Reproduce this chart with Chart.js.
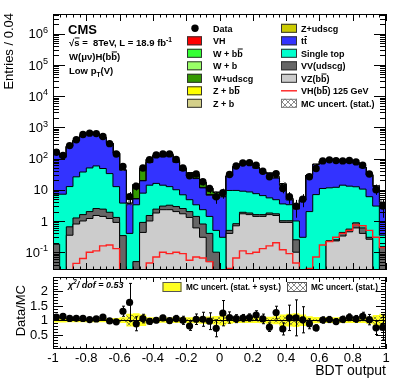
<!DOCTYPE html>
<html>
<head>
<meta charset="utf-8">
<script src="https://cdn.jsdelivr.net/npm/chart.js@4.4.1/dist/chart.umd.min.js"></script>
<style>
  html, body { margin: 0; padding: 0; background: #fff; }
  #wrap { position: relative; width: 407px; height: 391px; overflow: hidden; background: #fff; }
  #main { position: absolute; left: 0; top: 0; }
  #ratio { position: absolute; left: 0; top: 273px; }
</style>
</head>
<body>
<div id="wrap">
  <canvas id="main" width="407" height="274"></canvas>
  <canvas id="ratio" width="407" height="118"></canvas>
</div>
<script>
// 50 bins of 0.04 between -1 and 1 (BDT output)
const binLow = -1;
const binWidth = 0.04;

// observed events per bin
const dataCounts = [
  160, 125, 260, 400, 590, 650, 630, 510, 300, 140, 56, 6,
  13, 50, 92, 131, 141, 141, 93, 50, 28, 32, 18, 11, 6,
  8, 31, 58, 72, 74, 61, 39, 26, 33, 11, 6, 3, 5,
  26, 48, 84, 91, 86, 84, 87, 78, 61, 32, 10, 3
];

// MC backgrounds, bottom of the stack first
const vzbb = [
  0.01, 0.01, 0.35, 0.8, 1.0, 1.2, 1.5, 1.4, 1.2, 0.9, 0, 0,
  0.02, 0.43, 1.0, 1.8, 2.3, 2.3, 2.0, 1.7, 1.3, 0.6, 0.3, 0.05, 0,
  0, 0.4, 0.7, 1.7, 1.6, 1.4, 1.4, 1.6, 1.5, 0.9, 0.9, 0.1, 0,
  0, 0, 0, 0.23, 0.23, 0.33, 0.45, 0.6, 0.4, 0.26, 0, 0
];
const vvudscg = [
  0.17, 0, 0.3, 0.45, 0.6, 0.8, 1.0, 1.0, 0.7, 0.4, 0.34, 0,
  0.03, 0.47, 0.5, 0.6, 0.7, 0.9, 0.9, 0.8, 0.7, 0.8, 0.5, 0.35, 0.1,
  0, 0.1, 0.12, 0.2, 0.2, 0.2, 0.2, 0.2, 0.2, 0.12, 0.12, 0.15, 0,
  0, 0, 0, 0, 0.02, 0.1, 0.1, 0.27, 0.2, 0.04, 0, 0.15
];
const singleTop = [
  7.0, 7.2, 12, 24.7, 35.4, 48, 55.5, 45.6, 31.1, 11.3, 3.4, 0.4,
  3.25, 6.9, 12.5, 13.6, 11, 9.4, 7.1, 4.4, 2.8, 1.9, 1.5, 1.0, 0.4,
  0.3, 9, 8.7, 7.1, 6.7, 5.9, 4.9, 3.7, 3.1, 2.5, 2.3, 0.75, 0.3,
  2.0, 7, 11, 11.3, 11.75, 13.6, 12.5, 11.6, 9.9, 5.7, 3, 0.2
];
const ttbar = [
  137, 103, 232, 349, 517, 584, 545, 413, 274, 135, 38.5, 3.1,
  1.8, 11.6, 61.3, 97.5, 100, 115, 66.3, 34.8, 22.9, 19.5, 9.2, 5.3, 4.8,
  5.65, 18.2, 44.2, 56.5, 57.4, 41.8, 28.9, 27.4, 18.8, 10.3, 1.4, 1.4, 4.35,
  27.2, 57.3, 70.6, 75.2, 75.9, 65, 62.8, 58.2, 40.6, 23.4, 9.7, 3.3
];
const zudscg = [
  0.05, 0.05, 0.05, 0.08, 0.1, 0.1, 0.1, 0.1, 0.08, 0.05, 0.05, 0.05,
  0.1, 0.3, 0.5, 0.5, 0.5, 0.5, 0.4, 0.3, 0.3, 0.3, 0.3, 0.3, 0.3,
  0.05, 0.1, 0.15, 0.2, 0.2, 0.3, 0.3, 0.3, 0.4, 0.3, 0.2, 0.1, 0.05,
  0.1, 0.2, 0.3, 0.3, 0.3, 0.3, 0.3, 0.3, 0.2, 0.2, 0.1, 0.05
];
const zb = [
  0.02, 0.02, 0.02, 0.02, 0.02, 0.02, 0.02, 0.02, 0.02, 0.02, 0.02, 0.02,
  0.03, 0.05, 0.08, 0.1, 0.1, 0.1, 0.08, 0.06, 0.05, 0.05, 0.04, 0.03, 0.02,
  0.02, 0.03, 0.04, 0.05, 0.05, 0.05, 0.05, 0.04, 0.04, 0.03, 0.02, 0.02, 0.02,
  0.02, 0.03, 0.04, 0.05, 0.05, 0.05, 0.05, 0.05, 0.04, 0.03, 0.02, 0.02
];
const zbb = [
  0.01, 0.01, 0.02, 0.02, 0.03, 0.03, 0.03, 0.03, 0.02, 0.02, 0.01, 0.01,
  0.02, 0.05, 0.1, 0.15, 0.15, 0.12, 0.1, 0.06, 0.04, 0.04, 0.03, 0.02, 0.02,
  0.01, 0.03, 0.05, 0.06, 0.06, 0.06, 0.05, 0.04, 0.05, 0.03, 0.02, 0.01, 0.01,
  0.02, 0.04, 0.06, 0.08, 0.08, 0.08, 0.1, 0.1, 0.08, 0.05, 0.02, 0.01
];
const wudscg = [
  0.3, 0.2, 0.4, 0.6, 0.8, 0.9, 0.9, 0.8, 0.6, 0.4, 0.3, 0.05,
  9, 25, 14, 8, 6, 6, 6, 6, 6, 7, 5, 4, 2.5,
  0.3, 0.3, 0.5, 0.5, 0.6, 1.2, 0.8, 0.5, 1.2, 1.0, 0.3, 0.1, 0.1,
  0.3, 0.6, 0.8, 0.8, 0.8, 1.0, 1.2, 1.5, 1.0, 0.8, 0.3, 0.1
];
const wb = [
  0.05, 0.05, 0.05, 0.05, 0.05, 0.05, 0.05, 0.05, 0.05, 0.05, 0.05, 0.05,
  0.4, 1.5, 3, 3, 3, 2.5, 2, 1, 0.5, 0.4, 0.3, 0.2, 0.1,
  0.05, 0.1, 0.2, 0.3, 0.3, 0.3, 0.2, 0.15, 0.2, 0.2, 0.1, 0.05, 0.05,
  0.05, 0.1, 0.2, 0.2, 0.3, 0.3, 0.3, 0.3, 0.2, 0.1, 0.05, 0.02
];
const wbb = [
  0.03, 0.03, 0.03, 0.03, 0.03, 0.03, 0.03, 0.03, 0.03, 0.03, 0.03, 0.03,
  0.2, 1, 3, 6, 7, 6, 3, 1, 0.5, 0.3, 0.2, 0.1, 0.1,
  0.05, 0.1, 0.3, 0.4, 0.5, 0.5, 0.4, 0.25, 0.4, 0.3, 0.1, 0.05, 0.05,
  0.05, 0.1, 0.3, 0.5, 0.6, 0.6, 0.8, 0.9, 0.6, 0.3, 0.1, 0.02
];
// VH(bb) 125 GeV signal (stacked on top and drawn as red line)
const vhSignal = [
  0, 0, 0.02, 0.044, 0.063, 0.1, 0.11, 0.16, 0.17, 0.13, 0, 0,
  0, 0.02, 0.045, 0.07, 0.1, 0.09, 0.1, 0.09, 0.055, 0.07, 0.065, 0.05, 0.02,
  0.005, 0.03, 0.065, 0.11, 0.09, 0.1, 0.13, 0.16, 0.2, 0.12, 0.09, 0.045, 0,
  0.03, 0.07, 0.17, 0.22, 0.3, 0.4, 0.5, 0.75, 0.7, 0.5, 0.3, 0.14
];

// relative MC uncertainties (ratio panel bands)
const systRel = [
  0.08, 0.08, 0.07, 0.07, 0.07, 0.07, 0.07, 0.07, 0.07, 0.08, 0.1, 0.22,
  0.24, 0.2, 0.1, 0.09, 0.09, 0.09, 0.1, 0.1, 0.1, 0.11, 0.12, 0.13, 0.15,
  0.18, 0.12, 0.1, 0.1, 0.1, 0.1, 0.11, 0.12, 0.14, 0.2, 0.22, 0.24, 0.2,
  0.14, 0.11, 0.1, 0.1, 0.1, 0.1, 0.1, 0.1, 0.1, 0.12, 0.18, 0.22
];
const statRel = [
  0.02, 0.03, 0.02, 0.02, 0.015, 0.015, 0.015, 0.02, 0.02, 0.03, 0.06, 0.18,
  0.16, 0.08, 0.04, 0.03, 0.03, 0.03, 0.04, 0.05, 0.06, 0.06, 0.08, 0.09, 0.1,
  0.12, 0.06, 0.05, 0.04, 0.04, 0.05, 0.06, 0.07, 0.08, 0.14, 0.16, 0.18, 0.14,
  0.08, 0.05, 0.04, 0.04, 0.04, 0.04, 0.04, 0.05, 0.05, 0.07, 0.12, 0.16
];

const xTickLabels = ['-1', '-0.8', '-0.6', '-0.4', '-0.2', '0', '0.2', '0.4', '0.6', '0.8', '1'];
const ratioTickLabels = ['0.5', '1', '1.5', '2'];

const FONT = '"Liberation Sans", Arial, Helvetica, sans-serif';
const yMin = 0.0269, yMax = 4.27e6;

const components = [
  { name: 'VZ(bb)', values: vzbb, color: '#cccccc' },
  { name: 'VV(udscg)', values: vvudscg, color: '#666666' },
  { name: 'Single top', values: singleTop, color: '#00ffcc' },
  { name: 'tt', values: ttbar, color: '#3333ff' },
  { name: 'Z+udscg', values: zudscg, color: '#cccc00' },
  { name: 'Z + b', values: zb, color: '#d4d08a' },
  { name: 'Z + bb', values: zbb, color: '#ffff00' },
  { name: 'W+udscg', values: wudscg, color: '#339900' },
  { name: 'W + b', values: wb, color: '#99ff66' },
  { name: 'W + bb', values: wbb, color: '#33ff33' },
  { name: 'VH', values: vhSignal, color: '#ff0000' }
];

function binCenter(i) { return binLow + (i + 0.5) * binWidth; }

// histogram -> step line points at the bin edges
function stepPoints(values) {
  const pts = values.map((v, i) => ({ x: binLow + i * binWidth, y: Math.max(v, 1e-4) }));
  pts.push({ x: binLow + values.length * binWidth, y: Math.max(values[values.length - 1], 1e-4) });
  return pts;
}

// cumulative stack
let running = dataCounts.map(() => 0);
const cumulative = components.map(c => {
  running = running.map((r, i) => r + c.values[i]);
  return running.slice();
});
const mcTotal = cumulative[cumulative.length - 1];
const ratio = dataCounts.map((n, i) => n / mcTotal[i]);
const ratioErr = dataCounts.map((n, i) => Math.sqrt(n) / mcTotal[i]);

function hatchPattern(ctx) {
  const c = document.createElement('canvas');
  c.width = 6; c.height = 6;
  const g = c.getContext('2d');
  g.strokeStyle = 'rgba(70,70,70,0.9)';
  g.lineWidth = 0.7;
  g.beginPath();
  g.moveTo(0, 6); g.lineTo(6, 0);
  g.moveTo(0, 0); g.lineTo(6, 6);
  g.stroke();
  return ctx.createPattern(c, 'repeat');
}

// text with overline / super / subscript pieces
function drawRich(ctx, x, y, parts, size, weight, style, align) {
  const fontFor = k => `${style || 'normal'} ${weight || 'normal'} ${(k === 'sup' || k === 'sub') ? size * 0.7 : size}px ${FONT}`;
  const widths = parts.map(([t, k]) => { ctx.font = fontFor(k); return ctx.measureText(t).width; });
  const total = widths.reduce((a, b) => a + b, 0);
  let cx = align === 'right' ? x - total : (align === 'center' ? x - total / 2 : x);
  parts.forEach(([t, k], i) => {
    ctx.font = fontFor(k);
    const dy = k === 'sup' ? -size * 0.42 : (k === 'sub' ? size * 0.28 : 0);
    ctx.fillText(t, cx, y + dy);
    if (k === 'bar') ctx.fillRect(cx + 0.5, y - size * 0.9, widths[i] - 0.5, 1);
    cx += widths[i];
  });
  return total;
}

const mainCtx = document.getElementById('main').getContext('2d');
const ratioCtx = document.getElementById('ratio').getContext('2d');
const hatchMain = hatchPattern(mainCtx);
const hatchRatio = hatchPattern(ratioCtx);

// ---------------- main panel ----------------
const mainDatasets = [];
mainDatasets.push({
  label: 'Data',
  data: dataCounts.map((n, i) => ({ x: binCenter(i), y: n })),
  showLine: false,
  pointRadius: 3.7,
  pointBackgroundColor: '#000',
  pointBorderColor: '#000',
  pointBorderWidth: 0
});
mainDatasets.push({
  label: 'VH(bb) 125 GeV',
  data: stepPoints(vhSignal),
  stepped: true,
  borderColor: '#ff2020',
  borderWidth: 1.4,
  fill: false,
  pointRadius: 0
});
mainDatasets.push({
  label: 'MC uncert. (stat.) up',
  data: stepPoints(mcTotal.map((t, i) => t * (1 + statRel[i]))),
  stepped: true, borderWidth: 0, pointRadius: 0,
  fill: '+1', backgroundColor: hatchMain
});
mainDatasets.push({
  label: 'MC uncert. (stat.) down',
  data: stepPoints(mcTotal.map((t, i) => t * (1 - statRel[i]))),
  stepped: true, borderWidth: 0, pointRadius: 0, fill: false
});
components.forEach((c, k) => {
  mainDatasets.push({
    label: c.name,
    data: stepPoints(cumulative[k]),
    stepped: true,
    borderColor: '#000',
    borderWidth: 1,
    backgroundColor: c.color,
    fill: 'start',
    pointRadius: 0
  });
});

const mainDecor = {
  id: 'mainDecor',
  afterDatasetsDraw(chart) {
    const { ctx, chartArea: a, scales: { x, y } } = chart;
    ctx.save();
    ctx.beginPath();
    ctx.rect(a.left, a.top, a.right - a.left, a.bottom - a.top);
    ctx.clip();
    ctx.strokeStyle = '#000';
    ctx.lineWidth = 1;
    dataCounts.forEach((n, i) => {
      const px = Math.round(x.getPixelForValue(binCenter(i))) + 0.5;
      const e = Math.sqrt(n);
      ctx.beginPath();
      ctx.moveTo(px, y.getPixelForValue(Math.max(n - e, 1e-4)));
      ctx.lineTo(px, y.getPixelForValue(n + e));
      ctx.stroke();
    });
    ctx.restore();
  },
  afterDraw(chart) {
    const { ctx, chartArea: a, scales: { x, y } } = chart;
    ctx.save();
    ctx.strokeStyle = '#000';
    ctx.fillStyle = '#000';
    ctx.lineWidth = 1;
    ctx.strokeRect(a.left + 0.5, a.top + 0.5, a.right - a.left - 1, a.bottom - a.top - 1);

    // x ticks (inside, top and bottom)
    ctx.beginPath();
    for (let i = 0; i <= 50; i++) {
      const px = Math.round(x.getPixelForValue(binLow + i * binWidth)) + 0.5;
      const len = i % 5 === 0 ? 7 : 3.5;
      ctx.moveTo(px, a.bottom); ctx.lineTo(px, a.bottom - len);
      ctx.moveTo(px, a.top); ctx.lineTo(px, a.top + len);
    }
    // log y ticks (inside, left and right)
    for (let k = -2; k <= 6; k++) {
      for (let m = 1; m <= 9; m++) {
        const v = m * Math.pow(10, k);
        if (v < yMin || v > yMax) continue;
        const py = Math.round(y.getPixelForValue(v)) + 0.5;
        const len = m === 1 ? 12 : 6;
        ctx.moveTo(a.left, py); ctx.lineTo(a.left + len, py);
        ctx.moveTo(a.right, py); ctx.lineTo(a.right - len, py);
      }
    }
    ctx.stroke();

    // y labels
    ctx.textBaseline = 'alphabetic';
    for (let k = -1; k <= 6; k++) {
      const py = y.getPixelForValue(Math.pow(10, k));
      const parts = k === 0 ? [['1', '']] : (k === 1 ? [['10', '']] : [['10', ''], [String(k), 'sup']]);
      drawRich(ctx, 48, py + 4.7, parts, 13, 'normal', 'normal', 'right');
    }

    // y title
    ctx.save();
    ctx.translate(9, 13);
    ctx.rotate(-Math.PI / 2);
    ctx.textAlign = 'right';
    ctx.textBaseline = 'middle';
    ctx.font = `13px ${FONT}`;
    ctx.fillText('Entries / 0.04', 0, 0);
    ctx.restore();

    // CMS labels
    ctx.textAlign = 'left';
    ctx.font = `bold 13px ${FONT}`;
    ctx.fillText('CMS', 68, 33.5);
    drawRich(ctx, 69, 46, [['\u221A', ''], ['s', 'bar'], [' =  8TeV, L = 18.9 fb', ''], ['-1', 'sup']], 9.5, 'bold');
    drawRich(ctx, 69, 60, [['W(\u03BC\u03BD)H(b', ''], ['b', 'bar'], [')', '']], 9.5, 'bold');
    drawRich(ctx, 69, 74, [['Low p', ''], ['T', 'sub'], ['(V)', '']], 9.5, 'bold');

    // legend
    const rows = [28.3, 40.8, 53.3, 65.8, 78.3, 90.8, 103.3];
    const box = (bx, cy, w, fill) => {
      ctx.fillStyle = fill;
      ctx.fillRect(bx, cy - 4.5, w, 9);
      ctx.strokeStyle = '#333';
      ctx.strokeRect(bx + 0.5, cy - 4.5 + 0.5, w - 1, 8);
      ctx.fillStyle = '#000';
    };
    const col1 = [
      { kind: 'dot', parts: [['Data', '']] },
      { kind: 'box', color: '#ff0000', parts: [['VH', '']] },
      { kind: 'box', color: '#33ff33', parts: [['W + b', ''], ['b', 'bar']] },
      { kind: 'box', color: '#99ff66', parts: [['W + b', '']] },
      { kind: 'box', color: '#339900', parts: [['W+udscg', '']] },
      { kind: 'box', color: '#ffff00', parts: [['Z + b', ''], ['b', 'bar']] },
      { kind: 'box', color: '#d4d08a', parts: [['Z + b', '']] }
    ];
    const col2 = [
      { kind: 'box', color: '#cccc00', parts: [['Z+udscg', '']] },
      { kind: 'box', color: '#3333ff', parts: [['t', ''], ['t', 'bar']] },
      { kind: 'box', color: '#00ffcc', parts: [['Single top', '']] },
      { kind: 'box', color: '#666666', parts: [['VV(udscg)', '']] },
      { kind: 'box', color: '#cccccc', parts: [['VZ(b', ''], ['b', 'bar'], [')', '']] },
      { kind: 'line', parts: [['VH(b', ''], ['b', 'bar'], [') 125 GeV', '']] },
      { kind: 'hatch', parts: [['MC uncert. (stat.)', '']] }
    ];
    col1.forEach((e, r) => {
      const cy = rows[r];
      if (e.kind === 'dot') {
        ctx.beginPath(); ctx.arc(195, cy, 3.7, 0, Math.PI * 2); ctx.fill();
      } else box(187, cy, 15, e.color);
      drawRich(ctx, 213, cy + 3.3, e.parts, 9, 'bold');
    });
    col2.forEach((e, r) => {
      const cy = rows[r];
      if (e.kind === 'box') box(281, cy, 16, e.color);
      else if (e.kind === 'line') {
        ctx.strokeStyle = '#ff2020'; ctx.lineWidth = 1.4;
        ctx.beginPath(); ctx.moveTo(281, cy); ctx.lineTo(297, cy); ctx.stroke();
        ctx.lineWidth = 1;
      } else {
        ctx.fillStyle = '#fff'; ctx.fillRect(281, cy - 4.5, 16, 9);
        ctx.fillStyle = hatchMain; ctx.fillRect(281, cy - 4.5, 16, 9);
        ctx.strokeStyle = '#777'; ctx.strokeRect(281.5, cy - 4, 15, 8);
        ctx.fillStyle = '#000';
      }
      drawRich(ctx, 301, cy + 3.3, e.parts, 9, 'bold');
    });
    ctx.restore();
  }
};

new Chart(mainCtx, {
  type: 'line',
  data: { datasets: mainDatasets },
  options: {
    responsive: false,
    animation: false,
    devicePixelRatio: 1,
    layout: { padding: { left: 53, right: 21, top: 14, bottom: 1 } },
    plugins: { legend: { display: false }, tooltip: { enabled: false } },
    elements: { line: { tension: 0 } },
    scales: {
      x: { type: 'linear', min: -1, max: 1, display: false },
      y: { type: 'logarithmic', min: yMin, max: yMax, display: false }
    }
  },
  plugins: [mainDecor]
});

// ---------------- ratio panel ----------------
const ratioDatasets = [
  {
    label: 'Data/MC',
    data: ratio.map((r, i) => ({ x: binCenter(i), y: r })),
    showLine: false,
    pointRadius: 3.6,
    pointBackgroundColor: '#000',
    pointBorderColor: '#000',
    pointBorderWidth: 0
  },
  {
    label: 'stat up',
    data: stepPoints(statRel.map(s => 1 + s)),
    stepped: true, borderWidth: 0, pointRadius: 0,
    fill: '+1', backgroundColor: hatchRatio
  },
  {
    label: 'stat down',
    data: stepPoints(statRel.map(s => 1 - s)),
    stepped: true, borderWidth: 0, pointRadius: 0, fill: false
  },
  {
    label: 'syst up',
    data: stepPoints(systRel.map(s => 1 + s)),
    stepped: true, borderWidth: 0, pointRadius: 0,
    fill: '+1', backgroundColor: '#ffff22'
  },
  {
    label: 'syst down',
    data: stepPoints(systRel.map(s => 1 - s)),
    stepped: true, borderWidth: 0, pointRadius: 0, fill: false
  }
];

const ratioDecor = {
  id: 'ratioDecor',
  afterDatasetDraw(chart, args) {
    if (args.index !== 1) return;
    const { ctx, chartArea: a, scales: { y } } = chart;
    const py = Math.round(y.getPixelForValue(1)) + 0.5;
    ctx.save();
    ctx.strokeStyle = '#000';
    ctx.lineWidth = 1;
    ctx.beginPath(); ctx.moveTo(a.left, py); ctx.lineTo(a.right, py); ctx.stroke();
    ctx.restore();
  },
  afterDatasetsDraw(chart) {
    const { ctx, chartArea: a, scales: { x, y } } = chart;
    ctx.save();
    ctx.beginPath();
    ctx.rect(a.left, a.top, a.right - a.left, a.bottom - a.top);
    ctx.clip();
    ctx.strokeStyle = '#000';
    ctx.lineWidth = 1;
    ratio.forEach((r, i) => {
      const px = Math.round(x.getPixelForValue(binCenter(i))) + 0.5;
      const top = y.getPixelForValue(r + ratioErr[i]);
      const bot = y.getPixelForValue(r - ratioErr[i]);
      ctx.beginPath();
      ctx.moveTo(px, top); ctx.lineTo(px, bot);
      ctx.moveTo(px - 1.5, top); ctx.lineTo(px + 1.5, top);
      ctx.moveTo(px - 1.5, bot); ctx.lineTo(px + 1.5, bot);
      ctx.stroke();
    });
    ctx.restore();
  },
  afterDraw(chart) {
    const { ctx, chartArea: a, scales: { x, y } } = chart;
    ctx.save();
    ctx.strokeStyle = '#000';
    ctx.fillStyle = '#000';
    ctx.lineWidth = 1;
    ctx.strokeRect(a.left + 0.5, a.top + 0.5, a.right - a.left - 1, a.bottom - a.top - 1);

    ctx.beginPath();
    for (let i = 0; i <= 50; i++) {
      const px = Math.round(x.getPixelForValue(binLow + i * binWidth)) + 0.5;
      const len = i % 5 === 0 ? 5 : 2.5;
      ctx.moveTo(px, a.bottom); ctx.lineTo(px, a.bottom - len);
      ctx.moveTo(px, a.top); ctx.lineTo(px, a.top + len);
    }
    for (let j = 1; j <= 24; j++) {
      const v = j / 10;
      const py = Math.round(y.getPixelForValue(v)) + 0.5;
      const len = j % 5 === 0 ? 10 : 5;
      ctx.moveTo(a.left, py); ctx.lineTo(a.left + len, py);
      ctx.moveTo(a.right, py); ctx.lineTo(a.right - len, py);
    }
    ctx.stroke();

    // tick labels
    ctx.font = `13px ${FONT}`;
    ctx.textBaseline = 'middle';
    ctx.textAlign = 'right';
    ratioTickLabels.forEach(t => ctx.fillText(t, 48, y.getPixelForValue(parseFloat(t)) + 0.5));
    ctx.textAlign = 'center';
    xTickLabels.forEach(t => ctx.fillText(t, x.getPixelForValue(parseFloat(t)), 85));
    ctx.textAlign = 'right';
    ctx.font = `14px ${FONT}`;
    ctx.fillText('BDT output', a.right, 98);

    // y title
    ctx.save();
    ctx.translate(21, 12);
    ctx.rotate(-Math.PI / 2);
    ctx.textAlign = 'right';
    ctx.textBaseline = 'middle';
    ctx.font = `13px ${FONT}`;
    ctx.fillText('Data/MC', 0, 0);
    ctx.restore();

    // chi2 and legend
    ctx.textAlign = 'left';
    ctx.textBaseline = 'alphabetic';
    drawRich(ctx, 68, 14.5, [['\u03C7', ''], ['2', 'sup'], ['/ dof = 0.53', '']], 9, 'bold', 'italic');
    ctx.fillStyle = '#ffff22';
    ctx.fillRect(162.5, 9, 19, 10);
    ctx.strokeStyle = '#555';
    ctx.strokeRect(163, 9.5, 18, 9);
    ctx.fillStyle = '#000';
    drawRich(ctx, 186, 17, [['MC uncert. (stat. + syst.)', '']], 8.2, 'bold');
    ctx.fillStyle = '#fff';
    ctx.fillRect(287, 9, 20, 10);
    ctx.fillStyle = hatchRatio;
    ctx.fillRect(287, 9, 20, 10);
    ctx.strokeStyle = '#555';
    ctx.strokeRect(287.5, 9.5, 19, 9);
    ctx.fillStyle = '#000';
    drawRich(ctx, 311, 17, [['MC uncert. (stat.)', '']], 8.2, 'bold');
    ctx.restore();
  }
};

new Chart(ratioCtx, {
  type: 'line',
  data: { datasets: ratioDatasets },
  options: {
    responsive: false,
    animation: false,
    devicePixelRatio: 1,
    layout: { padding: { left: 53, right: 21, top: 0, bottom: 42 } },
    plugins: { legend: { display: false }, tooltip: { enabled: false } },
    elements: { line: { tension: 0 } },
    scales: {
      x: { type: 'linear', min: -1, max: 1, display: false },
      y: { type: 'linear', min: 0, max: 2.5, display: false }
    }
  },
  plugins: [ratioDecor]
});
</script>
</body>
</html>
